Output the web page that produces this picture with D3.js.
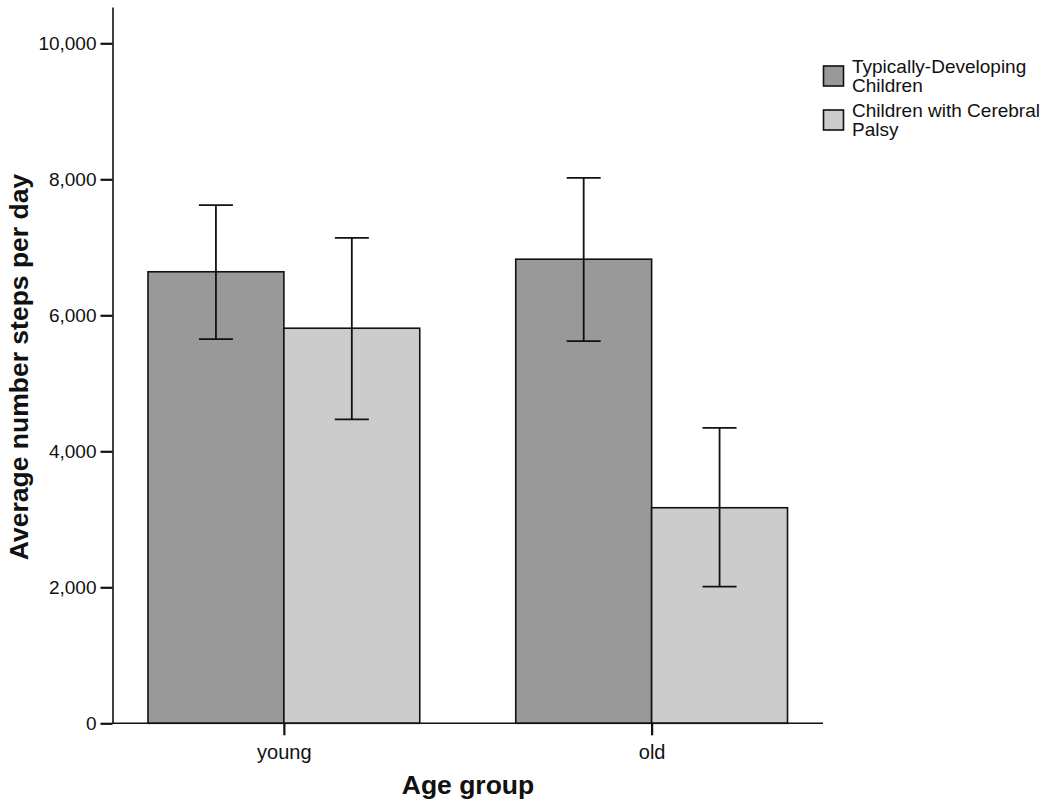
<!DOCTYPE html>
<html><head><meta charset="utf-8">
<script src="https://cdn.jsdelivr.net/npm/d3@7"></script>
<style>body{margin:0;background:#fff}svg{display:block;font-family:"Liberation Sans",Arial,sans-serif}</style>
</head><body><svg id="c" width="1050" height="810"></svg>
<script>
const categories = ["young", "old"];
const seriesNames = ["Typically-Developing Children", "Children with Cerebral Palsy"];
const legendLines = [["Typically-Developing", "Children"], ["Children with Cerebral", "Palsy"]];
const seriesColors = ["#999999", "#cccccc"];
const meanTD = [6640, 6825];
const meanCP = [5810, 3170];
const upperTD = [7620, 8020];
const lowerTD = [5650, 5620];
const upperCP = [7140, 4345];
const lowerCP = [4470, 2010];
const yTicks = [0, 2000, 4000, 6000, 8000, 10000];

const svg = d3.select("#c");
const x0 = 112.5, x1 = 823, yBase = 723.3, yTop = 7;
const x = d3.scaleBand().domain(categories).range([x0, x1]).paddingInner(0.261).paddingOuter(0.0965);
const xs = d3.scaleBand().domain([0, 1]).range([0, x.bandwidth()]);
const y = d3.scaleLinear().domain([0, (yBase - yTop) / 136 * 2000]).range([yBase, yTop]);

const data = [];
categories.forEach((c, i) => {
  data.push({c, s: 0, v: meanTD[i], hi: upperTD[i], lo: lowerTD[i]});
  data.push({c, s: 1, v: meanCP[i], hi: upperCP[i], lo: lowerCP[i]});
});

// bars
svg.append("g").selectAll("rect").data(data).join("rect")
  .attr("x", d => x(d.c) + xs(d.s))
  .attr("width", xs.bandwidth())
  .attr("y", d => y(d.v))
  .attr("height", d => y(0) - y(d.v))
  .attr("fill", d => seriesColors[d.s])
  .attr("stroke", "#111").attr("stroke-width", 1.6);

// error bars
const eb = svg.append("g").attr("stroke", "#111").attr("stroke-width", 1.8).attr("fill", "none");
data.forEach(d => {
  const cx = x(d.c) + xs(d.s) + xs.bandwidth() / 2;
  eb.append("line").attr("x1", cx).attr("x2", cx).attr("y1", y(d.hi)).attr("y2", y(d.lo));
  eb.append("line").attr("x1", cx - 17).attr("x2", cx + 17).attr("y1", y(d.hi)).attr("y2", y(d.hi));
  eb.append("line").attr("x1", cx - 17).attr("x2", cx + 17).attr("y1", y(d.lo)).attr("y2", y(d.lo));
});

// y axis
const ya = svg.append("g").attr("transform", `translate(${x0},0)`)
  .call(d3.axisLeft(y).tickValues(yTicks).tickSize(12).tickSizeOuter(0).tickPadding(4).tickFormat(d3.format(",")));
ya.select(".domain").attr("stroke", "#111").attr("stroke-width", 1.6);
ya.selectAll(".tick line").attr("stroke", "#111").attr("stroke-width", 2.2);
ya.selectAll(".tick text").attr("font-size", 19).attr("fill", "#111").attr("font-family", "Liberation Sans, Arial, sans-serif");

// x axis
const xCenter = d3.scalePoint().domain(categories).range([x(categories[0]) + x.bandwidth()/2, x(categories[1]) + x.bandwidth()/2]);
const xa = svg.append("g").attr("transform", `translate(0,${yBase})`)
  .call(d3.axisBottom(xCenter).tickSize(12).tickSizeOuter(0).tickPadding(10));
xa.select(".domain").attr("d", `M${x0},0H${x1}`).attr("stroke", "#111").attr("stroke-width", 1.6);
xa.selectAll(".tick line").attr("stroke", "#111").attr("stroke-width", 2.2);
xa.selectAll(".tick text").attr("font-size", 20).attr("fill", "#111").attr("font-family", "Liberation Sans, Arial, sans-serif");

// axis titles
svg.append("text").attr("transform", "translate(28,367) rotate(-90)").attr("text-anchor", "middle")
  .attr("font-size", 26.5).attr("font-weight", "bold").attr("fill", "#111").text("Average number steps per day");
svg.append("text").attr("x", 468).attr("y", 794).attr("text-anchor", "middle")
  .attr("font-size", 26.5).attr("font-weight", "bold").attr("fill", "#111").text("Age group");

// legend
const lg = svg.append("g");
legendLines.forEach((lines, i) => {
  const gy = 66 + i * 44;
  lg.append("rect").attr("x", 823.5).attr("y", gy).attr("width", 20).attr("height", 20)
    .attr("fill", seriesColors[i]).attr("stroke", "#111").attr("stroke-width", 1.6);
  const t = lg.append("text").attr("x", 852).attr("y", gy + 7).attr("font-size", 19).attr("fill", "#111")
    .attr("aria-label", seriesNames[i]);
  lines.forEach((l, j) => t.append("tspan").attr("x", 852).attr("dy", j === 0 ? 0 : 18.5).text(l));
});
</script></body></html>
